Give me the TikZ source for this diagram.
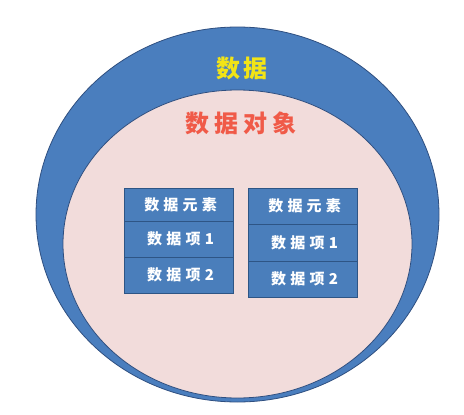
\documentclass[tikz,border=0pt]{standalone}
\usepackage{fontspec}
\newfontfamily\cjk{Noto Sans CJK SC}
\usetikzlibrary{shapes.geometric}
\definecolor{outerblue}{HTML}{4A7EBE}
\definecolor{edgeblue}{HTML}{2F4F80}
\definecolor{innerpink}{HTML}{F2DCDB}
\definecolor{cellblue}{HTML}{4A7EBB}
\definecolor{celledge}{HTML}{2E5585}
\definecolor{titleyellow}{HTML}{F2E416}
\definecolor{titlered}{HTML}{F05A48}
\tikzset{
  ring/.style={ellipse, inner sep=0pt, outer sep=0pt, line width=0.8pt},
  cell/.style={rectangle, draw=celledge, fill=cellblue, line width=1pt,
    minimum width=109pt, inner sep=0pt, outer sep=0pt, text=white,
    font=\cjk\bfseries\fontsize{15}{17}\selectfont\addfontfeature{LetterSpace=28},
    execute at begin node={\kern4.2pt}},
  titleA/.style={text=titleyellow, font=\cjk\bfseries\fontsize{24}{28}\selectfont\addfontfeature{LetterSpace=14},
    execute at begin node={\kern3.4pt}},
  titleB/.style={text=titlered, font=\cjk\bfseries\fontsize{24}{28}\selectfont\addfontfeature{LetterSpace=20},
    execute at begin node={\kern4.8pt}}
}
\begin{document}
\begin{tikzpicture}[x=1pt,y=-1pt]
\useasboundingbox (0,0) rectangle (464,415);
\fill[white] (0,0) rectangle (464,415);
\node[ring, draw=edgeblue, fill=outerblue, minimum width=403pt, minimum height=375pt] (outer) at (237.5,214.5) {};
\node[ring, draw=edgeblue, fill=innerpink, minimum width=349pt, minimum height=308pt] (inner) at (237.5,244) {};
\node[titleA] (data) at (240,68) {数据};
\node[titleB] (obj) at (238.5,123) {数据对象};
\node[cell, minimum height=33pt] (l1) at (178.5,204.5) {数据元素};
\node[cell, minimum height=36pt] (l2) at (178.5,239) {数据项1};
\node[cell, minimum height=36pt] (l3) at (178.5,275) {数据项2};
\node[cell, minimum height=36pt] (r1) at (302.5,206) {数据元素};
\node[cell, minimum height=37pt] (r2) at (302.5,242.5) {数据项1};
\node[cell, minimum height=36pt] (r3) at (302.5,279) {数据项2};
\end{tikzpicture}
\end{document}
